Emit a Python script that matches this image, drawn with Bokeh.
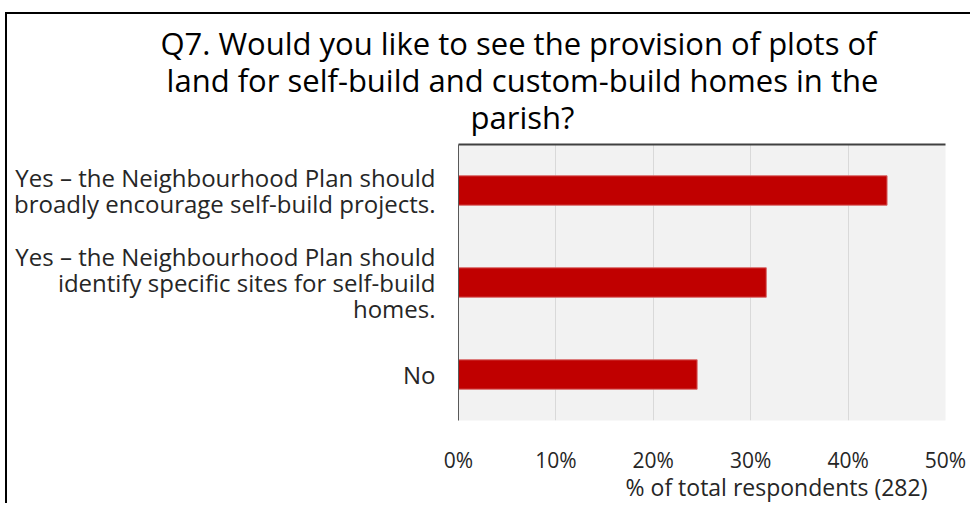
from bokeh.plotting import figure
from bokeh.models import (FactorRange, Range1d, FixedTicker, NumeralTickFormatter,
                          ColumnDataSource, LinearAxis)
from bokeh.embed import file_html
from bokeh.resources import INLINE

# ---- data ----
categories = [
    "Yes – the Neighbourhood Plan should\nbroadly encourage self-build projects.",
    "Yes – the Neighbourhood Plan should\nidentify specific sites for self-build\nhomes.",
    "No",
]
shares = [0.440, 0.316, 0.245]
x_ticks = [0, 0.1, 0.2, 0.3, 0.4, 0.5]
title_lines = [
    "Q7.  Would you like to see the provision of plots of",
    "land for self-build and custom-build homes in the",
    "parish?",
]
x_axis_title = "% of total respondents (282)"

FONT = "Open Sans"
TXT = "#262626"

p = figure(width=965, height=491,
           y_range=FactorRange(*reversed(categories)),
           x_range=Range1d(0, 0.5),
           output_backend="svg", toolbar_location=None,
           min_border_left=451, min_border_right=27,
           min_border_top=130, min_border_bottom=74,
           styles={"margin-left": "7px", "margin-top": "14px",
                   "box-shadow": "-2px -2px 0 0 black"})

# pixel-like helper range spanning the plot width, used to place the text axes
p.extra_x_ranges = {"px": Range1d(0, 487)}

src = ColumnDataSource(dict(cat=categories, share=shares))
p.hbar(y="cat", left=0, right="share", height=0.32, source=src,
       fill_color="#c00000", line_color="#d96a6a", line_width=1)

p.background_fill_color = "#f2f2f2"
p.border_fill_color = "white"
p.outline_line_color = None

p.ygrid.grid_line_color = None
p.xgrid.ticker = FixedTicker(ticks=x_ticks)
p.xgrid.grid_line_color = "#d9d9d9"
p.xgrid.grid_line_width = 1

# main x axis
xa = p.xaxis[0]
xa.ticker = FixedTicker(ticks=x_ticks)
xa.formatter = NumeralTickFormatter(format="0%")
xa.axis_line_color = None
xa.major_tick_line_color = None
xa.minor_tick_line_color = None
xa.major_label_text_font = FONT
xa.major_label_text_font_size = "21px"
xa.major_label_text_color = TXT
xa.major_label_standoff = 19

# y axis
ya = p.yaxis[0]
ya.axis_line_color = "#595959"
ya.axis_line_width = 1
ya.major_tick_line_color = None
ya.minor_tick_line_color = None
ya.major_label_text_font = FONT
ya.major_label_text_font_size = "24px"
ya.major_label_text_color = TXT
ya.major_label_text_align = "center"
ya.major_label_text_line_height = 0.8
ya.major_label_standoff = 17

# chart title, carried by an axis above the plot (its line is the dark top edge)
TITLE_X = 64
top = LinearAxis(x_range_name="px", ticker=FixedTicker(ticks=[TITLE_X]),
                 major_label_overrides={TITLE_X: "\n".join(title_lines)})
top.axis_line_color = "#404040"
top.axis_line_width = 2
top.major_tick_line_color = None
top.minor_tick_line_color = None
top.major_label_text_font = FONT
top.major_label_text_font_size = "31px"
top.major_label_text_color = "black"
top.major_label_text_align = "center"
top.major_label_text_line_height = 0.87
top.major_label_standoff = 1
p.add_layout(top, "above")

# x axis title, placed under the tick labels
XT_X = 318
bot = LinearAxis(x_range_name="px", ticker=FixedTicker(ticks=[XT_X]),
                 major_label_overrides={XT_X: x_axis_title})
bot.axis_line_color = None
bot.major_tick_line_color = None
bot.minor_tick_line_color = None
bot.major_label_text_font = FONT
bot.major_label_text_font_size = "23px"
bot.major_label_text_color = TXT
bot.major_label_standoff = -12
p.add_layout(bot, "below")

open("out.html", "w").write(file_html(p, INLINE))
